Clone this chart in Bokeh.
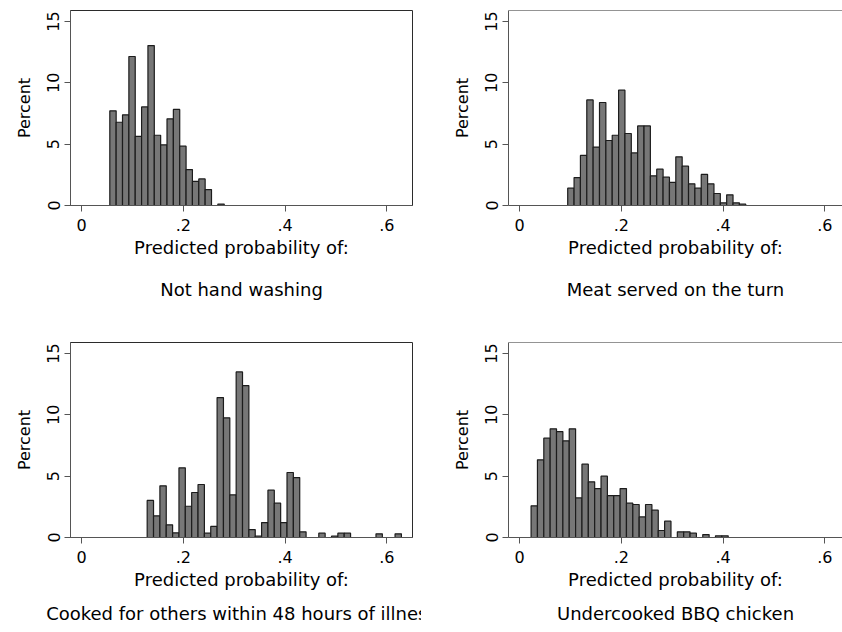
from bokeh.plotting import figure
from bokeh.models import FixedTicker, Span, Range1d, Title
from bokeh.layouts import gridplot
from bokeh.embed import file_html
from bokeh.resources import INLINE

# ---------------- data ----------------
x_ticks = [0, 0.2, 0.4, 0.6]
x_tick_labels = ["0", ".2", ".4", ".6"]
y_ticks = [0, 5, 10, 15]
y_tick_labels = ["0", "5", "10", "15"]

bin_width = 0.0125

hand_start = 0.0553
hand_pct = [7.72, 6.79, 7.39, 12.15, 5.63, 8.04, 13.04, 5.73, 4.95, 7.07, 7.83,
            4.84, 2.93, 1.96, 2.17, 1.30, 0.0, 0.12]

turn_start = 0.0944
turn_pct = [1.41, 2.28, 4.08, 8.61, 4.76, 8.40, 5.30, 5.73, 9.40, 5.87, 4.29, 6.49,
            6.49, 2.42, 2.96, 2.31, 1.88, 3.97, 3.21, 1.77, 1.41, 2.53, 1.77, 0.98,
            0.22, 0.87, 0.22, 0.11]

cooked_start = 0.1288
cooked_pct = [3.02, 1.77, 4.21, 1.03, 0.38, 5.68, 2.55, 3.67, 4.32, 0.35, 0.90,
              11.41, 9.76, 3.48, 13.50, 12.39, 0.65, 0.11, 1.22, 3.86, 2.80, 1.22,
              5.30, 4.89, 0.46, 0.0, 0.0, 0.35, 0.0, 0.11, 0.35, 0.35, 0.0, 0.0,
              0.0, 0.0, 0.30, 0.0, 0.0, 0.30]

bbq_start = 0.0224
bbq_pct = [2.58, 6.33, 8.10, 8.86, 8.64, 7.88, 8.86, 3.23, 5.98, 4.54, 3.99, 5.00,
           3.42, 3.42, 3.99, 2.80, 2.69, 1.68, 2.69, 2.23, 0.57, 1.33, 0.0, 0.46,
           0.46, 0.35, 0.0, 0.24, 0.0, 0.14, 0.14]

x_title = "Predicted probability of:"
y_title = "Percent"
subtitles = ["Not hand washing", "Meat served on the turn",
             "Cooked for others within 48 hours of illness", "Undercooked BBQ chicken"]

# ---------------- styling ----------------
FONT = "DejaVu Sans"
BAR_FILL = "#777777"
BAR_LINE = "#1c1c1c"
AXIS_COL = "#555555"
FRAME_COL = "#2b2b2b"
X_START = -0.022
Y_END = 15.9


def panel(pct, start, subtitle, width, height, mb_left, mb_right, mb_top, mb_bottom,
          x_end, right_side, sub_standoff):
    p = figure(width=width, height=height, output_backend="svg", toolbar_location=None,
               x_range=Range1d(X_START, x_end), y_range=Range1d(0, Y_END),
               min_border=0, min_border_left=mb_left, min_border_right=mb_right,
               min_border_top=mb_top, min_border_bottom=mb_bottom,
               background_fill_color="white", border_fill_color="white")
    p.grid.visible = False

    lefts = [start + i * bin_width for i, h in enumerate(pct) if h > 0]
    rights = [l + bin_width for l in lefts]
    tops = [h for h in pct if h > 0]
    p.quad(left=lefts, right=rights, top=tops, bottom=0,
           fill_color=BAR_FILL, line_color=BAR_LINE, line_width=1.2)

    # axes
    p.xaxis.ticker = FixedTicker(ticks=x_ticks)
    p.xaxis.major_label_overrides = dict(zip(x_ticks, x_tick_labels))
    p.yaxis.ticker = FixedTicker(ticks=y_ticks)
    p.yaxis.major_label_overrides = dict(zip(y_ticks, y_tick_labels))
    p.yaxis.major_label_orientation = "vertical"
    p.yaxis.axis_label = y_title
    p.xaxis.axis_label = x_title
    for ax in (p.xaxis, p.yaxis):
        ax.major_label_text_font = FONT
        ax.major_label_text_font_size = "16px"
        ax.major_label_text_color = "black"
        ax.axis_label_text_font = FONT
        ax.axis_label_text_font_style = "normal"
        ax.axis_label_text_color = "black"
        ax.axis_line_color = AXIS_COL
        ax.major_tick_line_color = AXIS_COL
        ax.minor_tick_line_color = None
        ax.major_tick_in = 0
        ax.major_tick_out = 6
    p.yaxis.axis_label_text_font_size = "16px"
    p.xaxis.axis_label_text_font_size = "18px"
    p.xaxis.major_label_standoff = 7
    p.xaxis.axis_label_standoff = 3
    p.yaxis.major_label_standoff = 5
    p.yaxis.axis_label_standoff = 11

    p.add_layout(Title(text=subtitle, align="center", text_font=FONT,
                       text_font_size="18px", text_font_style="normal",
                       text_color="black", standoff=sub_standoff), "below")

    if right_side:
        p.outline_line_color = None
        p.add_layout(Span(location=Y_END, dimension="width",
                          line_color=FRAME_COL, line_width=1))
    else:
        p.outline_line_color = FRAME_COL
        p.outline_line_alpha = 1.0
    return p


p1 = panel(hand_pct, hand_start, subtitles[0], 421, 316, 70, 9, 10, 111, 0.6506, False, 32)
p2 = panel(turn_pct, turn_start, subtitles[1], 421, 316, 87, 0, 10, 111, 0.6346, True, 32)
p3 = panel(cooked_pct, cooked_start, subtitles[2], 421, 316, 70, 9, 26, 95, 0.6506, False, 16)
p4 = panel(bbq_pct, bbq_start, subtitles[3], 421, 316, 87, 0, 26, 95, 0.6346, True, 16)

layout = gridplot([[p1, p2], [p3, p4]], toolbar_location=None)

open("out.html", "w").write(file_html(layout, INLINE))
